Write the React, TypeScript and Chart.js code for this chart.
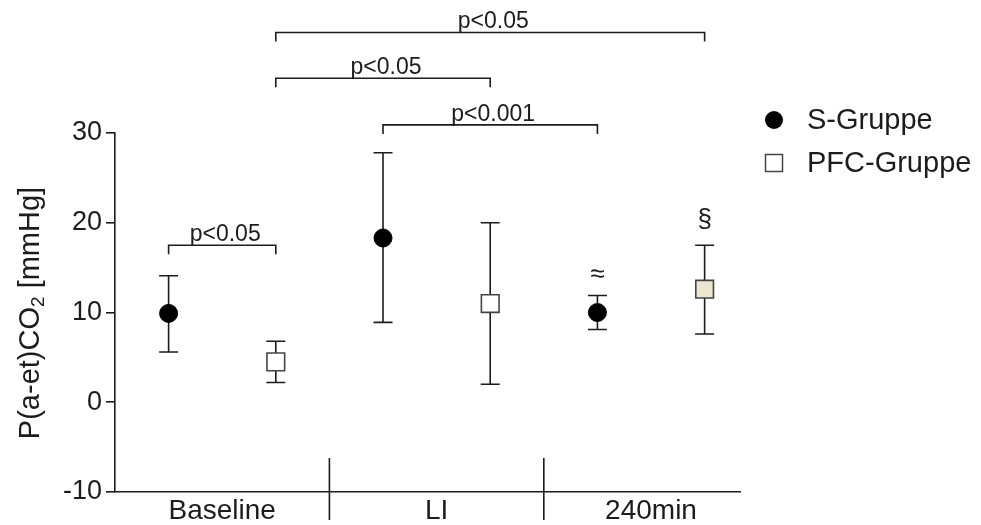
import React, { useEffect, useRef } from 'react';
import { Chart, registerables } from 'chart.js';

Chart.register(...registerables);

// Time points and group summaries: mean with lower / upper error limits (mmHg)
const categories = ['Baseline', 'LI', '240min'];
const sMean = [9.9, 18.3, 10.0];
const sLower = [5.6, 8.9, 8.1];
const sUpper = [14.1, 27.8, 11.9];
const pfcMean = [4.5, 11.0, 12.6];
const pfcLower = [2.2, 2.0, 7.6];
const pfcUpper = [6.8, 20.0, 17.5];
const yTicks = [-10, 0, 10, 20, 30];

// Pairwise comparisons: [group, time index] -> [group, time index]
const compFrom: [number, number][] = [[1, 0], [1, 0], [0, 1], [0, 0]];
const compTo: [number, number][] = [[1, 2], [1, 1], [0, 2], [1, 0]];
const compLevel = [41.2, 36.1, 30.9, 17.5];
const compLabel = ['p<0.05', 'p<0.05', 'p<0.001', 'p<0.05'];

// Symbols flagged above single points: [group, time index]
const flagAt: [number, number][] = [[0, 2], [1, 2]];
const flagText = ['≈', '§'];

const FONT = "'Liberation Sans', Arial, Helvetica, sans-serif";
const INK = '#1c1c1c';
const GROUP_SHIFT = 0.25;
const X_MAX = 2.915;

const errorLimits = [
  [sLower, sUpper],
  [pfcLower, pfcUpper],
];

const pointX = (group: number, idx: number) => idx + 0.5 + (group === 0 ? -GROUP_SHIFT : GROUP_SHIFT);

const errorBarPlugin = {
  id: 'errorBars',
  beforeDatasetsDraw(chart: any) {
    const { ctx, scales } = chart;
    const x = scales.x;
    const y = scales.y;
    const cap = 9.5;
    ctx.save();
    ctx.strokeStyle = INK;
    ctx.lineWidth = 1.6;
    errorLimits.forEach(([lo, hi], g) => {
      lo.forEach((_, i) => {
        const px = x.getPixelForValue(pointX(g, i));
        const yl = y.getPixelForValue(lo[i]);
        const yh = y.getPixelForValue(hi[i]);
        ctx.beginPath();
        ctx.moveTo(px, yl);
        ctx.lineTo(px, yh);
        ctx.moveTo(px - cap, yl);
        ctx.lineTo(px + cap, yl);
        ctx.moveTo(px - cap, yh);
        ctx.lineTo(px + cap, yh);
        ctx.stroke();
      });
    });
    ctx.restore();
  },
};

const decorPlugin = {
  id: 'decor',
  afterDraw(chart: any) {
    const { ctx, scales } = chart;
    const x = scales.x;
    const y = scales.y;
    const axisY = y.getPixelForValue(-10);

    ctx.save();
    ctx.strokeStyle = INK;
    ctx.lineWidth = 1.6;

    // dividers between time points
    for (let k = 1; k < categories.length; k++) {
      const px = x.getPixelForValue(k);
      ctx.beginPath();
      ctx.moveTo(px, axisY - 34);
      ctx.lineTo(px, axisY + 28);
      ctx.stroke();
    }

    // significance brackets
    ctx.fillStyle = INK;
    ctx.font = `23px ${FONT}`;
    ctx.textAlign = 'center';
    ctx.textBaseline = 'bottom';
    compLevel.forEach((lvl, i) => {
      const x1 = x.getPixelForValue(pointX(compFrom[i][0], compFrom[i][1]));
      const x2 = x.getPixelForValue(pointX(compTo[i][0], compTo[i][1]));
      const ly = y.getPixelForValue(lvl);
      ctx.beginPath();
      ctx.moveTo(x1, ly + 9);
      ctx.lineTo(x1, ly);
      ctx.lineTo(x2, ly);
      ctx.lineTo(x2, ly + 9);
      ctx.stroke();
      ctx.fillText(compLabel[i], (x1 + x2) / 2 + 3, ly + 1);
    });

    // flags above points
    ctx.font = `26px ${FONT}`;
    ctx.textBaseline = 'middle';
    flagAt.forEach(([g, i], k) => {
      const hi = errorLimits[g][1][i];
      const px = x.getPixelForValue(pointX(g, i));
      const py = y.getPixelForValue(hi);
      ctx.fillText(flagText[k], px, py - (k === 0 ? 21 : 25));
    });

    // y-axis title with subscript
    ctx.translate(29, 313);
    ctx.rotate(-Math.PI / 2);
    ctx.textAlign = 'left';
    ctx.textBaseline = 'alphabetic';
    const big = `29px ${FONT}`;
    const small = `19px ${FONT}`;
    const p1 = 'P(a-et)CO';
    const p2 = '2';
    const p3 = ' [mmHg]';
    ctx.font = big;
    const w1 = ctx.measureText(p1).width;
    const w3 = ctx.measureText(p3).width;
    ctx.font = small;
    const w2 = ctx.measureText(p2).width;
    let cx = -(w1 + w2 + w3) / 2;
    const base = 10;
    ctx.font = big;
    ctx.fillText(p1, cx, base);
    cx += w1;
    ctx.font = small;
    ctx.fillText(p2, cx, base + 5);
    cx += w2;
    ctx.font = big;
    ctx.fillText(p3, cx, base);
    ctx.setTransform(1, 0, 0, 1, 0, 0);

    // legend
    const ds = chart.data.datasets;
    const lx = 774;
    const rows = [120, 163];
    ctx.textBaseline = 'middle';
    ctx.textAlign = 'left';
    ctx.font = `29px ${FONT}`;
    ctx.beginPath();
    ctx.arc(lx, rows[0], 9, 0, Math.PI * 2);
    ctx.fillStyle = ds[0].backgroundColor;
    ctx.fill();
    ctx.fillStyle = '#ffffff';
    ctx.strokeStyle = ds[1].borderColor;
    ctx.lineWidth = 1.5;
    ctx.fillRect(lx - 8.5, rows[1] - 8.5, 17, 17);
    ctx.strokeRect(lx - 8.5, rows[1] - 8.5, 17, 17);
    ctx.fillStyle = INK;
    ctx.fillText(ds[0].label, 807, rows[0] + 1);
    ctx.fillText(ds[1].label, 807, rows[1] + 1);
    ctx.restore();
  },
};

export default function App() {
  const ref = useRef<HTMLCanvasElement>(null);

  useEffect(() => {
    document.body.style.margin = '0';
    const canvas = ref.current;
    if (!canvas) return;

    const chart = new Chart(canvas, {
      type: 'scatter',
      data: {
        datasets: [
          {
            label: 'S-Gruppe',
            data: sMean.map((v, i) => ({ x: pointX(0, i), y: v })),
            pointStyle: 'circle',
            pointRadius: 9,
            pointHoverRadius: 9,
            backgroundColor: '#000000',
            borderColor: '#000000',
            borderWidth: 1,
          },
          {
            label: 'PFC-Gruppe',
            data: pfcMean.map((v, i) => ({ x: pointX(1, i), y: v })),
            pointStyle: 'rect',
            pointRadius: 12.5,
            pointHoverRadius: 12.5,
            backgroundColor: ['#ffffff', '#ffffff', '#ede6cf'],
            borderColor: '#444444',
            borderWidth: 1.6,
          },
        ],
      },
      options: {
        animation: false,
        responsive: false,
        devicePixelRatio: 1,
        events: [],
        layout: { padding: { left: 0, top: 133, right: 981 - 740, bottom: 0 } },
        plugins: {
          legend: { display: false },
          tooltip: { enabled: false },
        },
        scales: {
          x: {
            type: 'linear',
            min: 0,
            max: X_MAX,
            grid: { display: false, drawTicks: false },
            border: { display: true, color: INK, width: 1.6 },
            afterBuildTicks: (axis: any) => {
              axis.ticks = categories.map((_, i) => ({ value: i + 0.5 }));
            },
            afterFit: (s: any) => {
              s.height = 33;
            },
            ticks: {
              autoSkip: false,
              maxRotation: 0,
              padding: 2,
              color: INK,
              font: { family: FONT, size: 28 },
              callback: (v: any) => categories[Math.floor(Number(v))] ?? '',
            },
          },
          y: {
            type: 'linear',
            min: yTicks[0],
            max: yTicks[yTicks.length - 1],
            afterBuildTicks: (axis: any) => {
              axis.ticks = yTicks.map((v) => ({ value: v }));
            },
            afterFit: (s: any) => {
              s.width = 115;
            },
            grid: {
              drawOnChartArea: false,
              drawTicks: true,
              tickLength: 9,
              color: INK,
              lineWidth: 1.6,
            },
            border: { display: true, color: INK, width: 1.6 },
            ticks: {
              padding: 4,
              color: INK,
              font: { family: FONT, size: 27 },
            },
          },
        },
      },
      plugins: [errorBarPlugin, decorPlugin],
    });

    return () => chart.destroy();
  }, []);

  return (
    <div style={{ position: 'fixed', left: 0, top: 0, width: 981, height: 525, background: '#ffffff' }}>
      <canvas ref={ref} width={981} height={525} style={{ width: '981px', height: '525px', display: 'block' }} />
    </div>
  );
}
